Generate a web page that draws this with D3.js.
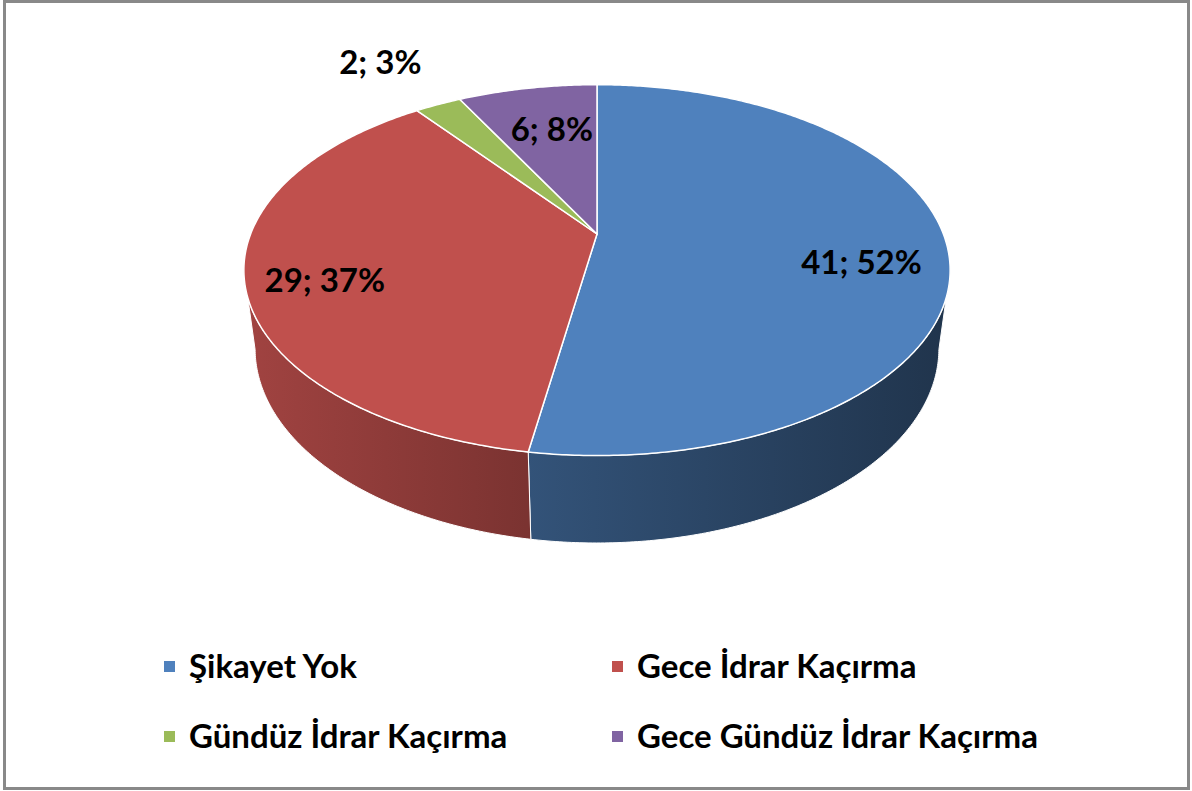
<!DOCTYPE html>
<html>
<head>
<meta charset="utf-8">
<script src="https://cdn.jsdelivr.net/npm/d3@7"></script>
<style>
  body { margin: 0; background: #fff; }
  svg { display: block; }
</style>
</head>
<body>
<svg width="1192" height="791"></svg>
<script>
// chart data
let categories = ["Şikayet Yok", "Gece İdrar Kaçırma", "Gündüz İdrar Kaçırma", "Gece Gündüz İdrar Kaçırma"];
let counts = [41, 29, 2, 6];
let percentLabels = ["52%", "37%", "3%", "8%"];
let colors = ["#4f81bd", "#c0504d", "#9bbb59", "#8064a2"];

let svg = d3.select("svg");
var svgWidth = +svg.attr("width");
var svgHeight = +svg.attr("height");

// frame
svg.append("rect")
  .attr("x", 4.5).attr("y", 1.5)
  .attr("width", svgWidth - 8).attr("height", svgHeight - 4)
  .attr("fill", "#fff")
  .attr("stroke", "#898989")
  .attr("stroke-width", 3);

// perspective settings for the tilted pie
var cx = 597, cy = 234;
var focal = 1524, camDist = 4.4, tilt = 31 * Math.PI / 180, depth = 0.27;

function project(r, theta, yLevel) {
  var X = r * Math.sin(theta), Z = r * Math.cos(theta), Y = yLevel;
  var yc = Y * Math.cos(tilt) + Z * Math.sin(tilt);
  var zc = camDist - Y * Math.sin(tilt) + Z * Math.cos(tilt);
  return [cx + focal * X / zc, cy - focal * yc / zc];
}

function arcPoints(a, b, yLevel) {
  var n = Math.max(2, Math.ceil(Math.abs(b - a) / 0.01));
  return d3.range(n + 1).map(function(i) {
    return project(1, a + (b - a) * i / n, yLevel);
  });
}

var pie = d3.pie().sort(null).value(function(d) { return d; });
var arcs = pie(counts);

var line = d3.line().curve(d3.curveLinearClosed);

// shading on the side walls, lighter on the left
var defs = svg.append("defs");
arcs.forEach(function(d, i) {
  var g = defs.append("linearGradient")
    .attr("id", "side" + i)
    .attr("gradientUnits", "userSpaceOnUse")
    .attr("x1", cx - 352).attr("x2", cx + 352)
    .attr("y1", 0).attr("y2", 0);
  var base = d3.rgb(colors[i]);
  [[0, 0.84], [0.4, 0.64], [1, 0.40]].forEach(function(s) {
    g.append("stop")
      .attr("offset", s[0])
      .attr("stop-color", d3.rgb(base.r * s[1], base.g * s[1], base.b * s[1]));
  });
});

// visible part of the outer wall
var tangent = Math.acos(-Math.cos(tilt) / camDist);
var wallsG = svg.append("g").classed("walls", true);
arcs.forEach(function(d, i) {
  var a = Math.max(d.startAngle, tangent);
  var b = Math.min(d.endAngle, 2 * Math.PI - tangent);
  if (b <= a) return;
  var pts = arcPoints(a, b, 0).concat(arcPoints(b, a, -depth));
  wallsG.append("path")
    .attr("d", line(pts))
    .attr("fill", "url(#side" + i + ")")
    .attr("stroke", "#fff")
    .attr("stroke-width", 1)
    .attr("stroke-linejoin", "round");
});

// top faces
var topG = svg.append("g").classed("tops", true);
arcs.forEach(function(d, i) {
  var pts = [project(0, 0, 0)].concat(arcPoints(d.startAngle, d.endAngle, 0));
  topG.append("path")
    .attr("d", line(pts))
    .attr("fill", colors[i])
    .attr("stroke", "#fff")
    .attr("stroke-width", 1.5)
    .attr("stroke-linejoin", "round");
});

// data labels
var labelR = [0.757, 0.78, 1.45, 0.607];
var labelDy = [29, 23, 16, 1];
var labelsG = svg.append("g").classed("labels", true);
arcs.forEach(function(d, i) {
  var mid = (d.startAngle + d.endAngle) / 2;
  var p = project(labelR[i], mid, 0);
  labelsG.append("text")
    .attr("x", p[0])
    .attr("y", p[1] + labelDy[i])
    .attr("text-anchor", "middle")
    .style("font-family", "Lato, sans-serif")
    .style("font-weight", 700)
    .style("font-size", "33px")
    .style("fill", "#000")
    .text(counts[i] + "; " + percentLabels[i]);
});

// legend
var legendX = d3.scaleOrdinal().domain([0, 1]).range([164, 612]);
var legendY = d3.scaleOrdinal().domain([0, 1]).range([678, 748]);
var legendG = svg.append("g").classed("legend", true);
categories.forEach(function(c, i) {
  var col = i % 2, row = Math.floor(i / 2);
  var item = legendG.append("g")
    .attr("transform", "translate(" + legendX(col) + "," + legendY(row) + ")");
  item.append("rect")
    .attr("x", 0).attr("y", -17)
    .attr("width", 11).attr("height", 11)
    .attr("fill", colors[i]);
  item.append("text")
    .attr("x", 25)
    .attr("y", 0)
    .style("font-family", "Lato, sans-serif")
    .style("font-weight", 700)
    .style("font-size", "33px")
    .style("fill", "#000")
    .text(c);
});
</script>
</body>
</html>
